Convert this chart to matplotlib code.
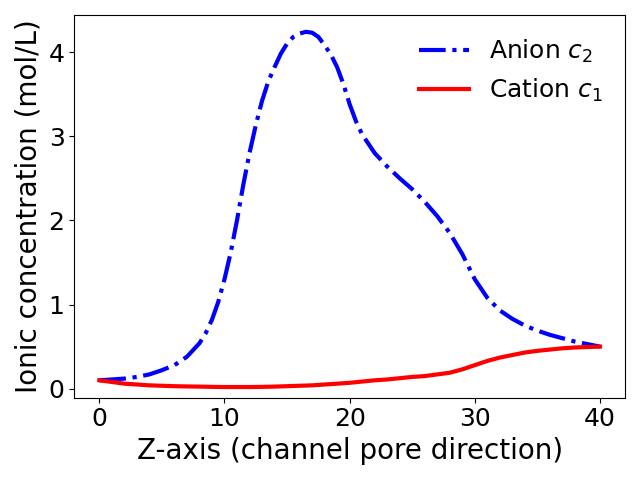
import matplotlib
matplotlib.use("Agg")
import matplotlib.pyplot as plt
import numpy as np

z_anion = [0, 1, 2, 3, 4, 5, 6, 7, 8, 8.5, 9, 9.5, 10, 10.5, 11, 11.5, 12,
           12.5, 13, 13.5, 14, 14.5, 15, 15.5, 16, 16.5, 17, 17.5, 18, 18.5,
           19, 19.5, 20, 20.5, 21, 22, 23, 24, 25, 26, 27, 28, 29, 30, 31,
           32, 33, 34, 35, 36, 37, 38, 39, 40]
anion = [0.10, 0.11, 0.12, 0.14, 0.17, 0.22, 0.28, 0.38, 0.54, 0.66, 0.82,
         1.03, 1.30, 1.62, 2.00, 2.42, 2.80, 3.13, 3.42, 3.65, 3.82, 3.98,
         4.10, 4.18, 4.22, 4.24, 4.23, 4.18, 4.08, 3.97, 3.82, 3.62, 3.38,
         3.18, 3.02, 2.80, 2.64, 2.50, 2.37, 2.22, 2.05, 1.85, 1.60, 1.30,
         1.08, 0.93, 0.83, 0.75, 0.69, 0.64, 0.60, 0.56, 0.53, 0.50]
z_cation = np.arange(0, 41)
cation = [0.10, 0.08, 0.06, 0.05, 0.04, 0.035, 0.03, 0.027, 0.025, 0.022,
          0.02, 0.02, 0.02, 0.022, 0.025, 0.03, 0.035, 0.04, 0.05, 0.06,
          0.07, 0.085, 0.10, 0.11, 0.125, 0.14, 0.15, 0.17, 0.19, 0.23,
          0.28, 0.33, 0.37, 0.40, 0.43, 0.45, 0.465, 0.48, 0.49, 0.495, 0.50]

fig, ax = plt.subplots(figsize=(6.4, 4.8), dpi=100)
ax.plot(z_anion, anion, 'b-.', lw=3, label=r"Anion $c_2$")
ax.plot(z_cation, cation, 'r-', lw=3, label=r"Cation $c_1$")
ax.set_ylim(-0.107, 4.44)
ax.set_xlabel("Z-axis (channel pore direction)", fontsize=20)
ax.set_ylabel("Ionic concentration (mol/L)", fontsize=20)
ax.tick_params(labelsize=18)
ax.legend(fontsize=18, frameon=False)
plt.tight_layout()
plt.savefig("out.png")
